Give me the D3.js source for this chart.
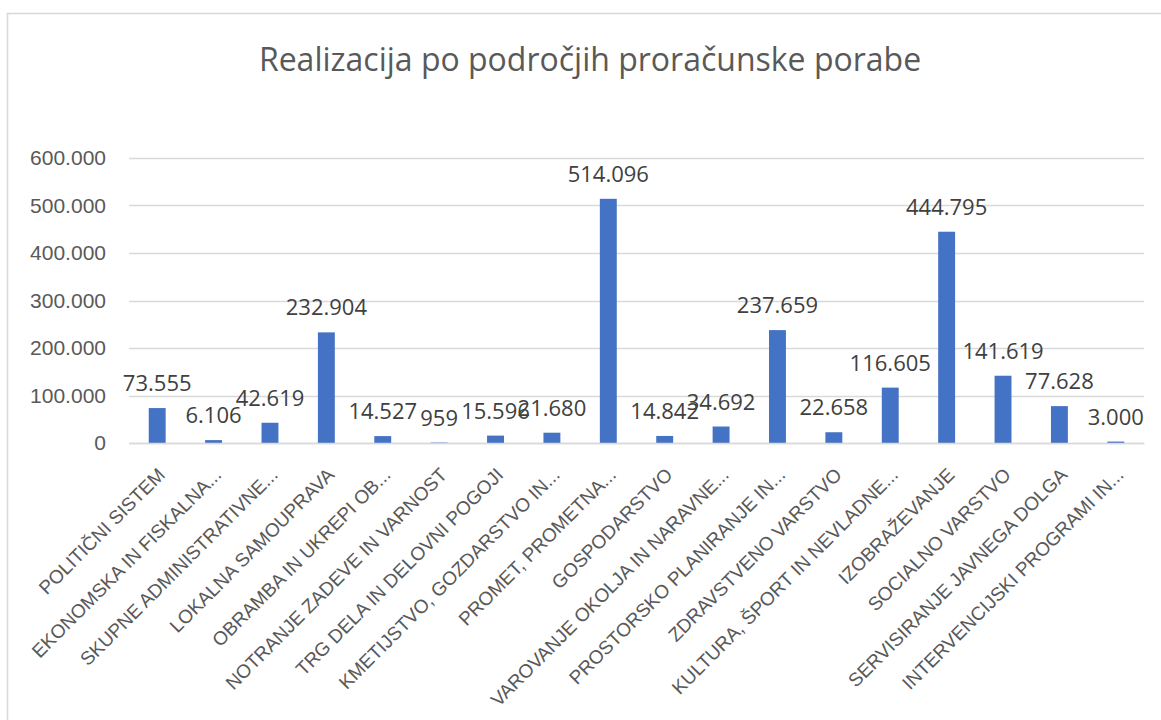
<!DOCTYPE html>
<html>
<head>
<meta charset="utf-8">
<script src="https://cdn.jsdelivr.net/npm/d3@7"></script>
<style>
  body { margin: 0; background: #fff; }
  svg { display: block; font-family: "Open Sans", "Noto Sans", sans-serif; }
</style>
</head>
<body>
<div id="chart"></div>
<script>
// Data
const categories = [
  "POLITIČNI SISTEM",
  "EKONOMSKA IN FISKALNA...",
  "SKUPNE ADMINISTRATIVNE...",
  "LOKALNA SAMOUPRAVA",
  "OBRAMBA IN UKREPI OB...",
  "NOTRANJE ZADEVE IN VARNOST",
  "TRG DELA IN DELOVNI POGOJI",
  "KMETIJSTVO, GOZDARSTVO IN...",
  "PROMET, PROMETNA...",
  "GOSPODARSTVO",
  "VAROVANJE OKOLJA IN NARAVNE...",
  "PROSTORSKO PLANIRANJE IN...",
  "ZDRAVSTVENO VARSTVO",
  "KULTURA, ŠPORT IN NEVLADNE...",
  "IZOBRAŽEVANJE",
  "SOCIALNO VARSTVO",
  "SERVISIRANJE JAVNEGA DOLGA",
  "INTERVENCIJSKI PROGRAMI IN...",
];
const values = [
  73555, 6106, 42619, 232904, 14527, 959, 15596, 21680, 514096,
  14842, 34692, 237659, 22658, 116605, 444795, 141619, 77628, 3000,
];
const yTicks = [0, 100000, 200000, 300000, 400000, 500000, 600000];
const title = "Realizacija po področjih proračunske porabe";

const W = 1161, H = 720;
const svg = d3.select("#chart").append("svg").attr("width", W).attr("height", H);

// chart frame
svg.append("rect")
  .attr("x", 7.5).attr("y", 13.5)
  .attr("width", W + 20).attr("height", H + 20)
  .attr("fill", "#fff").attr("stroke", "#d9d9d9").attr("stroke-width", 1.6);

const margin = { top: 158, left: 129, right: 17, bottom: 277 };
const width = W - margin.left - margin.right;
const height = H - margin.top - margin.bottom;

const locale = d3.formatLocale({ decimal: ",", thousands: ".", grouping: [3], currency: ["", "€"] });
const fmt = locale.format(",.0f");

const chart = svg.append("g").attr("transform", `translate(${margin.left},${margin.top})`);

const x = d3.scaleBand().domain(categories).range([0, width]).paddingInner(0.7).paddingOuter(0.35);
const y = d3.scaleLinear().domain([0, 600000]).range([height, 0]);

// gridlines
chart.append("g")
  .selectAll("line")
  .data(yTicks)
  .join("line")
  .attr("x1", 0).attr("x2", width)
  .attr("y1", d => Math.round(y(d)) + 0.5).attr("y2", d => Math.round(y(d)) + 0.5)
  .attr("stroke", "#d9d9d9").attr("stroke-width", 1.3);

// y axis labels
const yAxis = chart.append("g")
  .call(d3.axisLeft(y).tickValues(yTicks).tickSize(0).tickPadding(23).tickFormat(fmt));
yAxis.select(".domain").remove();
yAxis.selectAll("text")
  .attr("fill", "#595959").style("font-size", "21px");

// bars
chart.append("g")
  .selectAll("rect")
  .data(values)
  .join("rect")
  .attr("x", (d, i) => x(categories[i]))
  .attr("y", d => y(d))
  .attr("width", x.bandwidth())
  .attr("height", d => height - y(d))
  .attr("fill", "#4472c4");

// data labels (some overlap, same as the original)
chart.append("g")
  .selectAll("text")
  .data(values)
  .join("text")
  .attr("x", (d, i) => x(categories[i]) + x.bandwidth() / 2)
  .attr("y", d => y(d) - 17)
  .attr("text-anchor", "middle")
  .attr("fill", "#404040")
  .style("font-size", "22px")
  .text(d => fmt(d));

// x axis
const xAxis = chart.append("g")
  .attr("transform", `translate(0,${height})`)
  .call(d3.axisBottom(x).tickSize(0));
xAxis.select(".domain").attr("stroke", "#d9d9d9").attr("stroke-width", 1.3);
xAxis.selectAll("text")
  .attr("fill", "#595959")
  .style("font-size", "19px")
  .attr("text-anchor", "end")
  .attr("dy", 0)
  .attr("x", 0).attr("y", 0)
  .attr("transform", "translate(9,33) rotate(-45)");

// title
svg.append("text")
  .attr("x", 590).attr("y", 71)
  .attr("text-anchor", "middle")
  .attr("fill", "#595959")
  .style("font-size", "32px")
  .text(title);
</script>
</body>
</html>
